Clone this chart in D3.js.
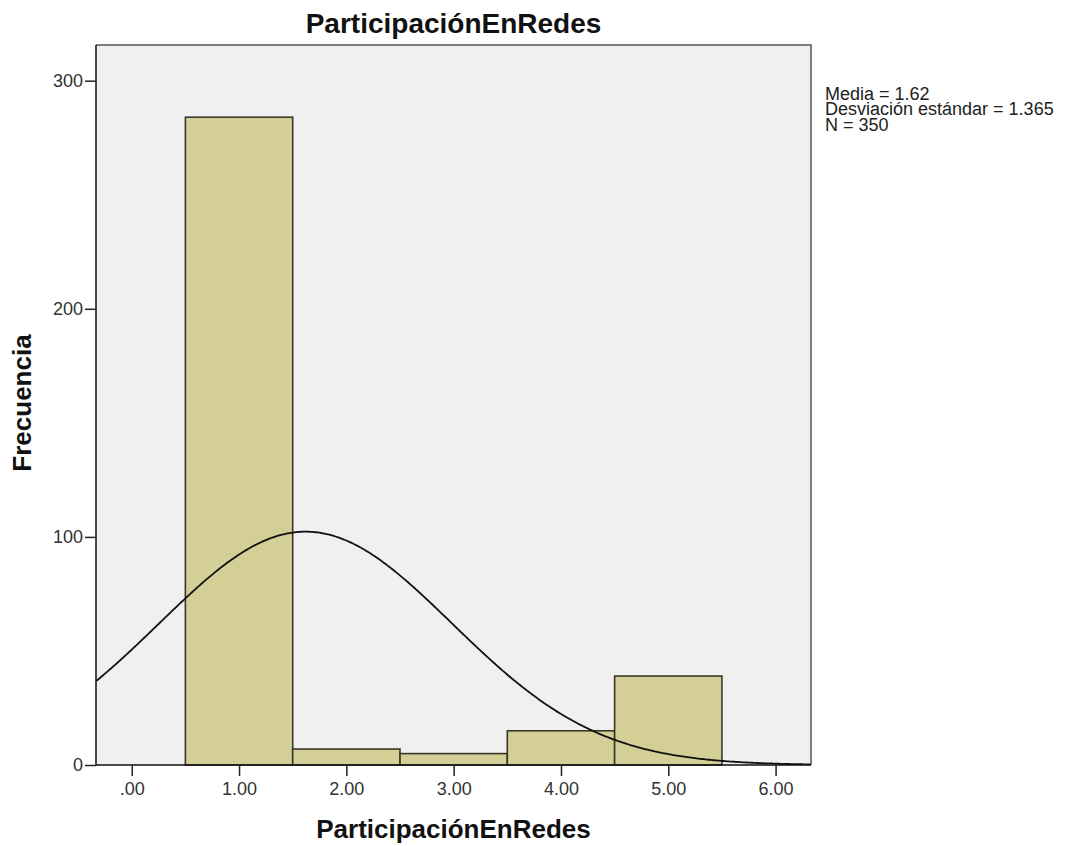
<!DOCTYPE html>
<html>
<head>
<meta charset="utf-8">
<script src="https://cdn.jsdelivr.net/npm/d3@7"></script>
<style>
  html, body { margin: 0; padding: 0; background: #ffffff; }
  svg text { font-family: "Liberation Sans", Arial, sans-serif; }
</style>
</head>
<body>
<svg id="chart" width="1073" height="846"></svg>
<script>
// Histogram bins (width 1, centred on the integer values)
const binCenters = [1, 2, 3, 4, 5];
const counts = [284, 7, 5, 15, 39];
const binWidth = 1;

// Axis ticks and their printed labels
const xTicks = [0, 1, 2, 3, 4, 5, 6];
const xTickLabels = [".00", "1.00", "2.00", "3.00", "4.00", "5.00", "6.00"];
const yTicks = [0, 100, 200, 300];

// Summary statistics
const mean = 1.62;
const sd = 1.365;
const n = 350;
const statLines = ["Media = 1.62", "Desviación estándar = 1.365", "N = 350"];

const title = "ParticipaciónEnRedes";
const xTitle = "ParticipaciónEnRedes";
const yTitle = "Frecuencia";

const svg = d3.select("#chart");
const plot = { left: 96, top: 45, right: 811, bottom: 765 };

const x = d3.scaleLinear().domain([-0.333, 6.33]).range([plot.left, plot.right]);
const y = d3.scaleLinear().domain([0, 300]).range([plot.bottom, 80.7]);

// Plot background
svg.append("rect")
  .attr("x", plot.left).attr("y", plot.top)
  .attr("width", plot.right - plot.left).attr("height", plot.bottom - plot.top)
  .attr("fill", "#f0f0f0");

svg.append("clipPath").attr("id", "plotClip")
  .append("rect")
  .attr("x", plot.left).attr("y", plot.top)
  .attr("width", plot.right - plot.left).attr("height", plot.bottom - plot.top);

// Bars
svg.append("g").selectAll("rect")
  .data(binCenters.map((c, i) => ({ c, v: counts[i] })))
  .join("rect")
  .attr("x", d => x(d.c - binWidth / 2))
  .attr("y", d => y(d.v))
  .attr("width", d => x(d.c + binWidth / 2) - x(d.c - binWidth / 2))
  .attr("height", d => y(0) - y(d.v))
  .attr("fill", "#d3cf96")
  .attr("stroke", "#3a3826")
  .attr("stroke-width", 1.6);

// Normal curve scaled to the histogram (N * bin width * density)
const xs = d3.range(0, 401).map(i => -0.333 + i * (6.33 + 0.333) / 400);
const normal = v => n * binWidth * Math.exp(-0.5 * ((v - mean) / sd) ** 2) / (sd * Math.sqrt(2 * Math.PI));
svg.append("path")
  .datum(xs)
  .attr("clip-path", "url(#plotClip)")
  .attr("fill", "none")
  .attr("stroke", "#111")
  .attr("stroke-width", 1.8)
  .attr("d", d3.line().x(v => x(v)).y(v => y(normal(v))).curve(d3.curveBasis));

// Frame: top and right borders
svg.append("path")
  .attr("d", `M${plot.left},${plot.top}H${plot.right}V${plot.bottom}`)
  .attr("fill", "none").attr("stroke", "#555").attr("stroke-width", 1.5);

// X axis
const xAxis = svg.append("g")
  .attr("transform", `translate(0,${plot.bottom})`)
  .call(d3.axisBottom(x).tickValues(xTicks).tickSize(11).tickPadding(6)
    .tickFormat((d, i) => xTickLabels[i]));
xAxis.select(".domain").attr("d", `M${plot.left},0H${plot.right}`).attr("stroke", "#111").attr("stroke-width", 1.5);
xAxis.selectAll(".tick line").attr("stroke", "#222").attr("stroke-width", 1.5);
xAxis.selectAll(".tick text").attr("font-size", 18).attr("fill", "#333")
  .attr("font-family", "Liberation Sans, Arial, sans-serif");

// Y axis
const yAxis = svg.append("g")
  .attr("transform", `translate(${plot.left},0)`)
  .call(d3.axisLeft(y).tickValues(yTicks).tickSize(11).tickPadding(2).tickFormat(d3.format("d")));
yAxis.select(".domain").attr("d", `M0,${plot.top}V${plot.bottom}`).attr("stroke", "#111").attr("stroke-width", 1.5);
yAxis.selectAll(".tick line").attr("stroke", "#222").attr("stroke-width", 1.5);
yAxis.selectAll(".tick text").attr("font-size", 18).attr("fill", "#333")
  .attr("font-family", "Liberation Sans, Arial, sans-serif");

// Titles
svg.append("text")
  .attr("x", (plot.left + plot.right) / 2).attr("y", 33)
  .attr("text-anchor", "middle").attr("font-size", 28).attr("font-weight", "bold").attr("fill", "#111")
  .text(title);

svg.append("text")
  .attr("x", (plot.left + plot.right) / 2).attr("y", 838)
  .attr("text-anchor", "middle").attr("font-size", 26).attr("font-weight", "bold").attr("fill", "#111")
  .text(xTitle);

svg.append("text")
  .attr("transform", "translate(31,403) rotate(-90)")
  .attr("text-anchor", "middle").attr("font-size", 26).attr("font-weight", "bold").attr("fill", "#111")
  .text(yTitle);

// Statistics block: three tightly stacked lines
svg.append("g").selectAll("text")
  .data(statLines)
  .join("text")
  .attr("x", 825)
  .attr("y", (d, i) => 99.5 + i * 15.5)
  .attr("font-size", 18)
  .attr("fill", "#222")
  .text(d => d);
</script>
</body>
</html>
